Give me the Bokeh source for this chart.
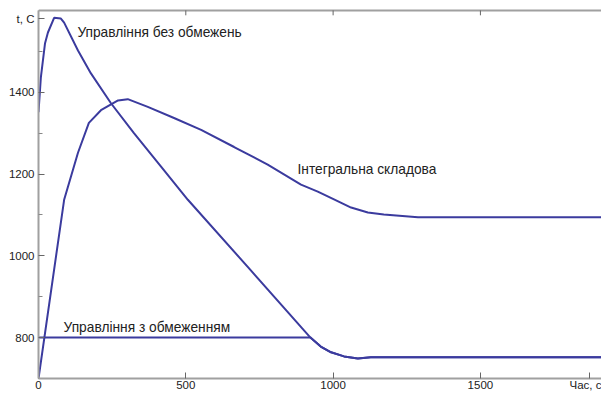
from bokeh.plotting import figure
from bokeh.models import Range1d, FixedTicker, Label
from bokeh.embed import file_html
from bokeh.resources import INLINE

# Unconstrained control ("Управління без обмежень")
t_free = [0, 8, 22, 32, 53, 76, 87, 134, 178, 246, 324, 416, 507, 720, 923, 958, 993, 1037, 1084, 1128, 1332, 1938]
v_free = [1351, 1436, 1519, 1546, 1582, 1580, 1570, 1502, 1446, 1373, 1300, 1218, 1137, 965, 800, 778, 764, 754, 749, 752, 752, 752]

# Integral component ("Інтегральна складова")
t_int = [0, 87, 134, 171, 212, 270, 303, 371, 460, 552, 664, 778, 891, 948, 1003, 1061, 1118, 1172, 1288, 1434, 1938]
v_int = [700, 1137, 1252, 1325, 1356, 1380, 1383, 1364, 1337, 1308, 1266, 1223, 1174, 1157, 1138, 1118, 1106, 1101, 1094, 1094, 1094]

# Constrained control ("Управління з обмеженням")
t_con = [0, 923, 958, 993, 1037, 1084, 1128, 1332, 1938]
v_con = [800, 800, 778, 764, 754, 749, 752, 752, 752]

x_ticks = [0, 500, 1000, 1500]
y_ticks = [800, 1000, 1200, 1400]
y_minor = [900, 1100, 1300, 1500]
x_title_pos, x_title = 1870, "Час, с"
y_title_pos, y_title = 1580, "t, C"
x_left, x_right = 0, 1911
y_bottom, y_top = 700, 1600

LINE = "#3b3b9e"
AX = "#a0a0a0"
TXT = "#222222"
FONT = "Liberation Sans"

p = figure(width=601, height=393, output_backend="svg", toolbar_location=None,
           x_range=Range1d(x_left, x_right), y_range=Range1d(y_bottom, 1612),
           min_border_left=38, min_border_right=0, min_border_top=5, min_border_bottom=13)
p.outline_line_color = None
p.grid.visible = False
p.background_fill_color = "white"

for ax in (p.xaxis[0], p.yaxis[0]):
    ax.axis_line_color = AX
    ax.axis_line_width = 2
    ax.major_tick_line_color = "#666666"
    ax.minor_tick_line_color = "#888888"
    ax.major_tick_in = 6
    ax.major_tick_out = 0
    ax.minor_tick_in = 4
    ax.minor_tick_out = 0
    ax.major_label_text_font = FONT
    ax.major_label_text_font_size = "11.5px"
    ax.major_label_text_color = TXT

p.xaxis[0].ticker = FixedTicker(ticks=x_ticks + [x_title_pos])
p.xaxis[0].major_label_overrides = {x_title_pos: x_title}
p.xaxis[0].major_label_standoff = 0
p.yaxis[0].ticker = FixedTicker(ticks=y_ticks + [y_title_pos], minor_ticks=y_minor)
p.yaxis[0].major_label_overrides = {y_title_pos: y_title}
p.yaxis[0].major_label_standoff = 4
p.yaxis[0].bounds = (y_bottom, y_top)

# top border line of the plotting area, with small ticks hanging down
p.line(x=[x_left, x_right], y=[y_top, y_top], line_color="#a0a0a0", line_width=2)
p.segment(x0=x_ticks, y0=[y_top] * len(x_ticks), x1=x_ticks, y1=[y_top - 12] * len(x_ticks),
          line_color="#666666", line_width=1)

p.line(t_int, v_int, line_color=LINE, line_width=2)
p.line(t_con, v_con, line_color=LINE, line_width=2)
p.line(t_free, v_free, line_color=LINE, line_width=2)

def lab(x, y, text):
    p.add_layout(Label(x=x, y=y, text=text, text_font=FONT, text_font_size="13.75px",
                       text_color=TXT, text_align="left", text_baseline="middle"))

lab(132, 1546, "Управління без обмежень")
lab(879, 1211, "Інтегральна складова")
lab(85, 824, "Управління з обмеженням")

open("out.html", "w").write(file_html(p, INLINE))
